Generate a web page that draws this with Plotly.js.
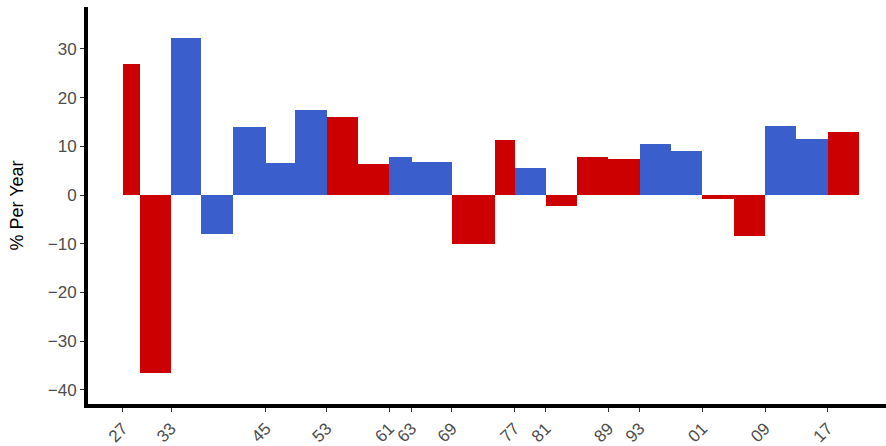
<!DOCTYPE html>
<html>
<head>
<meta charset="utf-8">
<script src="https://cdn.plot.ly/plotly-3.0.1.min.js"></script>
<style>html,body{margin:0;padding:0;background:#fff}#chart{width:886px;height:446px}</style>
</head>
<body>
<div id="chart"></div>
<script>
// Term segments (fractional years), annual % return, party
const termStart = [1927.0, 1929.17, 1933.17, 1937.05, 1941.05, 1945.28, 1949.05, 1953.05, 1957.05, 1961.05, 1963.89, 1969.05, 1974.6, 1977.05, 1981.05, 1985.05, 1989.05, 1993.05, 1997.05, 2001.05, 2005.05, 2009.05, 2013.05, 2017.05];
const termEnd   = [1929.17, 1933.17, 1937.05, 1941.05, 1945.28, 1949.05, 1953.05, 1957.05, 1961.05, 1963.89, 1969.05, 1974.6, 1977.05, 1981.05, 1985.05, 1989.05, 1993.05, 1997.05, 2001.05, 2005.05, 2009.05, 2013.05, 2017.05, 2021.05];
const pctPerYear = [27.0, -36.5, 32.3, -8.0, 14.0, 6.6, 17.5, 16.1, 6.4, 7.9, 6.8, -10.0, 11.4, 5.5, -2.3, 7.9, 7.3, 10.4, 9.0, -0.9, -8.5, 14.1, 11.6, 12.9];
const party = ['R','R','D','D','D','D','D','R','R','D','D','R','R','D','R','R','R','D','D','R','R','D','D','R'];
const tickYears = [1927.0, 1933.17, 1945.28, 1953.05, 1961.05, 1963.89, 1969.05, 1977.05, 1981.05, 1989.05, 1993.05, 2001.05, 2009.05, 2017.05];
const tickLabels = ['27','33','45','53','61','63','69','77','81','89','93','01','09','17'];

const colorMap = {R: '#CC0000', D: '#3A5FCD'};
const mids = termStart.map((s, i) => (s + termEnd[i]) / 2);
const widths = termStart.map((s, i) => termEnd[i] - s);

const trace = {
  type: 'bar',
  x: mids,
  y: pctPerYear,
  width: widths,
  marker: {color: party.map(p => colorMap[p]), line: {width: 0}},
  hoverinfo: 'y'
};

const tickFont = {family: 'Liberation Sans, Arial, sans-serif', size: 17, color: '#4d4d4d'};
const layout = {
  width: 886, height: 446,
  margin: {l: 88, r: 0, t: 7, b: 42},
  paper_bgcolor: '#fff', plot_bgcolor: '#fff',
  showlegend: false,
  bargap: 0,
  xaxis: {
    range: [1922.56, 2024.5],
    tickmode: 'array', tickvals: tickYears, ticktext: tickLabels,
    tickangle: -45,
    showgrid: false, zeroline: false,
    showline: true, linecolor: '#000', linewidth: 4,
    ticks: 'outside', ticklen: 4, tickwidth: 1, tickcolor: '#333',
    tickfont: tickFont
  },
  yaxis: {
    range: [-42.9, 38.6],
    tickvals: [-40, -30, -20, -10, 0, 10, 20, 30],
    showgrid: false, zeroline: false,
    showline: true, linecolor: '#000', linewidth: 4,
    ticks: 'outside', ticklen: 4, tickwidth: 1, tickcolor: '#333',
    tickfont: tickFont,
    title: {text: '% Per Year', font: {family: 'Liberation Sans, Arial, sans-serif', size: 18, color: '#000'}, standoff: 20}
  }
};

Plotly.newPlot('chart', [trace], layout, {displayModeBar: false, staticPlot: true});
</script>
</body>
</html>
